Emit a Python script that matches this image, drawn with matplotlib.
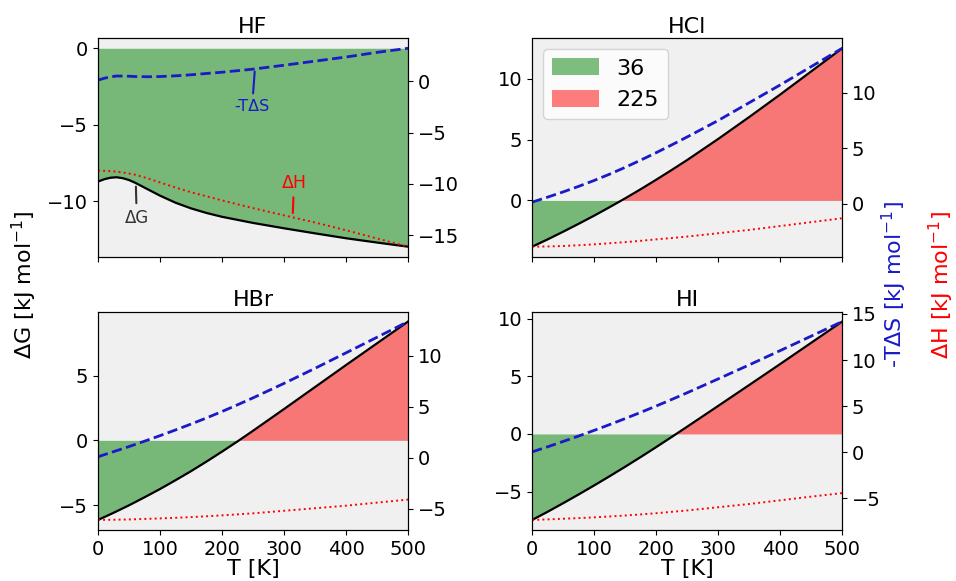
import matplotlib
matplotlib.use("Agg")
import matplotlib.pyplot as plt
import numpy as np

# Temperature grids [K]
T_HF = [0, 10, 20, 30, 40, 50, 60, 80, 100, 125, 150, 175, 200, 250, 300, 350, 400, 450, 500]
T_X = [0, 25, 50, 75, 100, 125, 150, 175, 200, 225, 250, 300, 350, 400, 450, 500]

# HF
dG_HF = [-8.7, -8.55, -8.45, -8.42, -8.48, -8.6, -8.78, -9.2, -9.62, -10.08, -10.45,
         -10.75, -11.0, -11.4, -11.75, -12.08, -12.4, -12.68, -12.95]
mTdS_HF = [0.1, 0.28, 0.42, 0.5, 0.5, 0.48, 0.45, 0.43, 0.45, 0.52, 0.62,
           0.75, 0.87, 1.17, 1.55, 1.95, 2.35, 2.8, 3.2]
dH_HF = [-8.7, -8.72, -8.75, -8.8, -8.88, -8.98, -9.1, -9.45, -9.85, -10.35, -10.8,
         -11.2, -11.6, -12.35, -13.05, -13.75, -14.5, -15.3, -16.1]

# HCl
dG_HCl = [-3.8, -3.2, -2.57, -1.92, -1.25, -0.55, 0.17, 0.92, 1.7, 2.5, 3.32,
          5.05, 6.85, 8.7, 10.6, 12.5]
mTdS_HCl = [0.15, 0.6, 1.07, 1.57, 2.1, 2.67, 3.28, 3.93, 4.6, 5.3, 6.02,
            7.5, 9.1, 10.7, 12.35, 14.0]
dH_HCl = [-3.86, -3.84, -3.8, -3.73, -3.65, -3.55, -3.45, -3.33, -3.2, -3.08, -2.95,
          -2.65, -2.35, -2.0, -1.65, -1.3]

# HBr
dG_HBr = [-6.15, -5.6, -5.02, -4.4, -3.76, -3.08, -2.38, -1.64, -0.87, -0.08, 0.74,
          2.42, 4.12, 5.82, 7.5, 9.18]
mTdS_HBr = [0.1, 0.6, 1.1, 1.63, 2.17, 2.73, 3.31, 3.91, 4.54, 5.2, 5.88,
            7.3, 8.78, 10.3, 11.83, 13.37]
dH_HBr = [-6.1, -6.08, -6.05, -6.0, -5.95, -5.89, -5.82, -5.74, -5.65, -5.55, -5.45,
          -5.2, -4.95, -4.7, -4.4, -4.1]

# HI
dG_HI = [-7.45, -6.74, -6.0, -5.24, -4.46, -3.66, -2.84, -2.0, -1.14, -0.26, 0.63,
         2.43, 4.24, 6.06, 7.9, 9.74]
mTdS_HI = [0.05, 0.6, 1.18, 1.77, 2.38, 3.01, 3.66, 4.33, 5.02, 5.73, 6.46,
           7.96, 9.48, 11.03, 12.6, 14.18]
dH_HI = [-7.33, -7.27, -7.2, -7.13, -7.05, -6.95, -6.85, -6.73, -6.6, -6.45, -6.3,
         -5.95, -5.6, -5.2, -4.8, -4.42]

names = ["HF", "HCl", "HBr", "HI"]
temps = [T_HF, T_X, T_X, T_X]
dG_all = [dG_HF, dG_HCl, dG_HBr, dG_HI]
mTdS_all = [mTdS_HF, mTdS_HCl, mTdS_HBr, mTdS_HI]
dH_all = [dH_HF, dH_HCl, dH_HBr, dH_HI]
legend_labels = ["36", "225"]

BLUE = "#1a1ac8"
RED = "red"

fig, axes = plt.subplots(2, 2, figsize=(9.56, 5.81), dpi=100, sharex=True)
fig.subplots_adjust(left=0.1025, right=0.881, top=0.934, bottom=0.088,
                    wspace=0.4, hspace=0.252)

for i, ax in enumerate(axes.flat):
    T = np.array(temps[i])
    dG = np.array(dG_all[i])
    ax.set_facecolor("#f0f0f0")

    # green where reaction is favourable, red where not
    ax.fill_between(T, dG, 0, where=dG <= 0, interpolate=True,
                    color="green", alpha=0.5, linewidth=0,
                    label=legend_labels[0])
    ax.fill_between(T, dG, 0, where=dG >= 0, interpolate=True,
                    color="red", alpha=0.5, linewidth=0,
                    label=legend_labels[1])
    ax.plot(T, dG, color="black", lw=1.6)

    ax2 = ax.twinx()
    ax2.plot(T, mTdS_all[i], "--", color=BLUE, lw=2)
    ax2.plot(T, dH_all[i], ":", color=RED, lw=1.4)

    ax.set_xlim(0, 500)
    ax.set_title(names[i], fontsize=16, pad=4)
    ax.tick_params(labelsize=14)
    ax2.tick_params(labelsize=14)

    if i == 1:
        ax.legend(loc="upper left", fontsize=16, handlelength=2.1,
                  handleheight=0.8)
    if i >= 2:
        ax.set_xlabel("T [K]", fontsize=16, labelpad=0)

    if i == 0:
        ax.annotate("-TΔS", xy=(253, 1.2), xycoords=ax2.transData,
                    xytext=(0.497, 0.688), textcoords="axes fraction",
                    ha="center", va="center", color=BLUE, fontsize=11.5,
                    arrowprops=dict(arrowstyle="-", color=BLUE, lw=1.5))
        ax.annotate("ΔH", xy=(314, -13.1), xycoords=ax2.transData,
                    xytext=(0.632, 0.338), textcoords="axes fraction",
                    ha="center", va="center", color=RED, fontsize=12.5,
                    arrowprops=dict(arrowstyle="-", color=RED, lw=1.5))
        ax.annotate("ΔG", xy=(61, -8.85),
                    xytext=(0.125, 0.178), textcoords="axes fraction",
                    ha="center", va="center", color="#333333", fontsize=12,
                    arrowprops=dict(arrowstyle="-", color="#333333", lw=1.5))

fig.text(0.026, 0.51, "ΔG [kJ mol$^{-1}$]", rotation=90, ha="center",
         va="center", fontsize=16)
fig.text(0.936, 0.51, "-TΔS [kJ mol$^{-1}$]", rotation=90, ha="center",
         va="center", fontsize=16, color=BLUE)
fig.text(0.985, 0.51, "ΔH [kJ mol$^{-1}$]", rotation=90, ha="center",
         va="center", fontsize=16, color=RED)

fig.savefig("out.png", dpi=100)
